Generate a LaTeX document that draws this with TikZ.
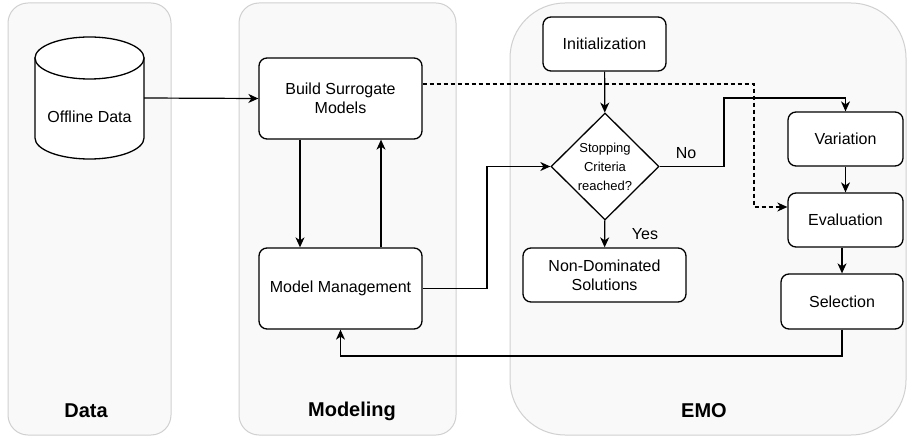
\documentclass[tikz,border=0pt]{standalone}
\usepackage{fontspec}
\setmainfont{Liberation Sans}
\usetikzlibrary{arrows.meta,shapes.geometric}
\definecolor{panelfill}{HTML}{F9F9F9}
\definecolor{panelline}{HTML}{D0D0D0}
\begin{document}
\begin{tikzpicture}[x=1pt,y=-1pt,
  box/.style={draw, line width=1.3pt, rounded corners=8pt, fill=white, align=center,
    font=\fontsize{16}{19}\selectfont, inner sep=0pt},
  conn/.style={line width=1.2pt, -{Stealth[length=10pt,width=9pt,inset=3pt]}},
  panel/.style={draw=panelline, line width=1pt, fill=panelfill},
  title/.style={font=\bfseries\fontsize{20}{24}\selectfont},
  lbl/.style={font=\fontsize{16}{19}\selectfont},
  cyl/.style={draw, line width=1.3pt, fill=white}]
\useasboundingbox (0,0) rectangle (909,438);
% panels
\draw[panel, rounded corners=20pt] (8,3) rectangle (171,435);
\draw[panel, rounded corners=20pt] (239,3) rectangle (456,435);
\draw[panel, rounded corners=55pt] (510,3) rectangle (906,435);
\node[title] (tdata) at (86,411) {Data};
\node[title] (tmod) at (352,411) {Modeling};
\node[title] (temo) at (704,411) {EMO};
% cylinder
\draw[cyl] (35,58) -- (35,138) .. controls (35,149.6) and (59.4,159) .. (89.5,159)
  .. controls (119.6,159) and (144,149.6) .. (144,138) -- (144,58) -- cycle;
\draw[cyl] (89.5,58) ellipse [x radius=54.5pt, y radius=21pt];
\node[minimum width=109pt, minimum height=122pt, inner sep=0pt] (data) at (89.5,98) {};
\node[lbl] (datatxt) at (89.5,117) {Offline Data};
% nodes
\node[box, minimum width=163pt, minimum height=81pt] (build) at (340.5,98.5) {Build Surrogate\\Models};
\node[box, minimum width=163pt, minimum height=81pt] (mm) at (340.5,288.5) {Model Management};
\node[box, minimum width=123pt, minimum height=54pt] (init) at (604.5,44) {Initialization};
\node[diamond, draw, line width=1.3pt, fill=white, minimum width=108pt, minimum height=107pt,
  inner sep=0pt, align=center, font=\fontsize{13}{19}\selectfont] (dia) at (605,166.5)
  {Stopping\\Criteria\\reached?};
\node[box, minimum width=163pt, minimum height=54pt] (nds) at (604.5,275) {Non-Dominated\\Solutions};
\node[box, minimum width=115pt, minimum height=54pt] (var) at (845.5,139) {Variation};
\node[box, minimum width=115pt, minimum height=54pt] (eval) at (845.5,220) {Evaluation};
\node[box, minimum width=122pt, minimum height=55pt] (sel) at (842,301.5) {Selection};
% coordinates
\coordinate (m2) at (487,166.5);
\coordinate (n1) at (724,98);
\coordinate (d1) at (754,84);
\coordinate (d2) at (754,207);
\coordinate (s1) at (842,356);
% connectors
\draw[conn] (data.east) -- (build.west);
\draw[conn] ([xshift=-40.5pt]build.south) -- ([xshift=-40.5pt]mm.north);
\draw[conn] ([xshift=40.5pt]mm.north) -- ([xshift=40.5pt]build.south);
\draw[conn] (mm.east) -| (m2) -- (dia.west);
\draw[conn] (init) -- (dia);
\draw[conn] (dia) -- (nds);
\draw[conn] (dia.east) -| (n1) -| (var.north);
\draw[conn] (var) -- (eval);
\draw[conn] (eval.south -| sel.north) -- (sel.north);
\draw[conn, dash pattern=on 4pt off 3pt] (build.east |- d1) -- (d1) -- (d2) -- (eval.west |- d2);
\draw[conn] (sel.south) -- (s1) -- (s1 -| mm.south) -- (mm.south);
\node[lbl] (no) at (686,153) {No};
\node[lbl] (yes) at (645,234) {Yes};
\end{tikzpicture}
\end{document}
